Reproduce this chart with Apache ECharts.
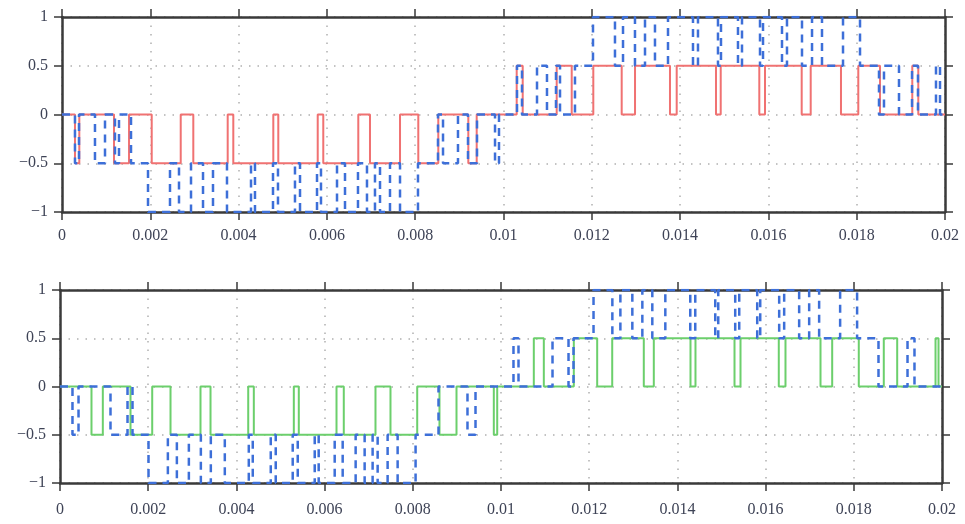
<!DOCTYPE html>
<html><head><meta charset="utf-8">
<script src="https://cdn.jsdelivr.net/npm/echarts@6/dist/echarts.min.js"></script>
<style>html,body{margin:0;padding:0;background:#fff}#c{width:965px;height:524px}</style>
</head><body><div id="c"></div>
<script>
// Axis ticks
const xTicks = [0, 0.002, 0.004, 0.006, 0.008, 0.01, 0.012, 0.014, 0.016, 0.018, 0.02];
const yTicks = [-1, -0.5, 0, 0.5, 1];

// Red 3-level waveform (top panel): switching instants in ms, level after each instant
const redT = [0, 0.294, 0.392, 1.178, 1.518, 2.032, 2.689, 2.974, 3.753, 3.880, 4.786, 4.899, 5.792, 5.918, 6.711, 6.976, 7.656, 8.070, 8.523, 9.203, 9.393,
  10.299, 10.435, 11.205, 11.545, 12.034, 12.677, 12.979, 13.771, 13.923, 14.813, 14.920, 15.794, 15.923, 16.754, 16.958, 17.644, 18.036, 18.528, 19.259, 19.395, 20];
const redV = [0, -0.5, 0, -0.5, 0, -0.5, 0, -0.5, 0, -0.5, 0, -0.5, 0, -0.5, 0, -0.5, 0, -0.5, 0, -0.5, 0,
  0.5, 0, 0.5, 0, 0.5, 0, 0.5, 0, 0.5, 0, 0.5, 0, 0.5, 0, 0.5, 0, 0.5, 0, 0.5, 0, 0];

// Green 3-level waveform (bottom panel)
const greenT = [0, 0.714, 0.971, 1.599, 2.091, 2.506, 3.186, 3.413, 4.268, 4.395, 5.302, 5.415, 6.270, 6.435, 7.154, 7.494, 8.100, 8.605, 8.991, 9.837, 9.914,
  10.744, 10.971, 11.651, 12.181, 12.522, 13.238, 13.465, 14.297, 14.410, 15.295, 15.431, 16.299, 16.451, 17.245, 17.510, 18.113, 18.680, 18.984, 19.853, 19.921, 20];
const greenV = [0, -0.5, 0, -0.5, 0, -0.5, 0, -0.5, 0, -0.5, 0, -0.5, 0, -0.5, 0, -0.5, 0, -0.5, 0, -0.5, 0,
  0.5, 0, 0.5, 0, 0.5, 0, 0.5, 0, 0.5, 0, 0.5, 0, 0.5, 0, 0.5, 0, 0.5, 0, 0.5, 0, 0];

// Blue 5-level waveform pieces
const blueTopStartT = [0, 0.294, 0.385, 0.747, 0.974, 1.200, 1.291, 1.563, 1.948];
const blueTopStartV = [0, -0.5, 0, -0.5, 0, -0.5, 0, -0.5, -1];
const blueBotStartT = [0, 0.283, 0.420, 1.145, 1.531, 1.644, 2.007];
const blueBotStartV = [0, -0.5, 0, -0.5, 0, -0.5, -1];
const blueNegT = [2.446, 2.650, 2.922, 3.194, 3.420, 3.737, 4.281, 4.371, 4.779, 4.892, 5.277, 5.391, 5.776, 5.866, 6.229, 6.410, 6.704, 6.908, 7.089, 7.203, 7.429, 7.656, 8.063];
const blueNegV = [-0.5, -1, -0.5, -1, -0.5, -1, -0.5, -1, -0.5, -1, -0.5, -1, -0.5, -1, -0.5, -1, -0.5, -1, -0.5, -1, -0.5, -1, -0.5];
const blueTopMidT = [8.516, 8.630, 8.969, 9.196, 9.400, 9.808, 9.898, 10.306, 10.419, 10.759, 10.985, 11.189, 11.280, 11.619, 12.027];
const blueTopMidV = [0, -0.5, 0, -0.5, 0, -0.5, 0, 0.5, 0, 0.5, 0, 0.5, 0, 0.5, 1];
const blueBotMidT = [8.583, 9.240, 9.422, 10.283, 10.397, 11.168, 11.531, 11.644, 12.098];
const blueBotMidV = [0, -0.5, 0, 0.5, 0, 0.5, 0, 0.5, 1];
const bluePosT = [12.525, 12.707, 12.978, 13.205, 13.431, 13.726, 14.292, 14.405, 14.858, 14.926, 15.311, 15.402, 15.810, 15.878, 16.308, 16.421, 16.761, 16.988, 17.214, 17.690, 18.075];
const bluePosV = [0.5, 1, 0.5, 1, 0.5, 1, 0.5, 1, 0.5, 1, 0.5, 1, 0.5, 1, 0.5, 1, 0.5, 1, 0.5, 1, 0.5];
const blueTopEndT = [18.505, 18.618, 18.958, 19.253, 19.388, 19.796, 19.887, 20];
const blueTopEndV = [0, 0.5, 0, 0.5, 0, 0.5, 0, 0];
const blueBotEndT = [18.560, 19.218, 19.376, 20];
const blueBotEndV = [0, 0.5, 0, 0];

function pts(t, v) { return t.map((ms, i) => [ms / 1000, v[i]]); }
const blueTop = pts([...blueTopStartT, ...blueNegT, ...blueTopMidT, ...bluePosT, ...blueTopEndT],
                    [...blueTopStartV, ...blueNegV, ...blueTopMidV, ...bluePosV, ...blueTopEndV]);
const blueBot = pts([...blueBotStartT, ...blueNegT, ...blueBotMidT, ...bluePosT, ...blueBotEndT],
                    [...blueBotStartV, ...blueNegV, ...blueBotMidV, ...bluePosV, ...blueBotEndV]);

const AX = '#3a3a3a';
const LABEL = { fontFamily: 'Liberation Serif', fontSize: 16, color: '#3e4356' };
const grid = { color: '#b0b0b0', type: [1.5, 7], width: 1.5 };
const xStep = xTicks[1] - xTicks[0];
const yStep = yTicks[1] - yTicks[0];

function xAxes(gi, margin) {
  const base = { gridIndex: gi, type: 'value', min: xTicks[0], max: xTicks[xTicks.length - 1], interval: xStep,
    axisLine: { show: true, onZero: false, lineStyle: { color: AX, width: 2.5 } },
    axisTick: { show: true, length: 8, lineStyle: { color: AX, width: 1.5 } } };
  return [
    Object.assign({}, base, { position: 'bottom',
      axisLabel: Object.assign({ margin: margin, showMinLabel: true, showMaxLabel: true,
        formatter: v => String(+v.toFixed(4)) }, LABEL),
      splitLine: { show: true, lineStyle: grid } }),
    Object.assign({}, base, { position: 'top', axisLabel: { show: false }, splitLine: { show: false } })
  ];
}
function yAxes(gi) {
  const base = { gridIndex: gi, type: 'value', min: yTicks[0], max: yTicks[yTicks.length - 1], interval: yStep,
    axisLine: { show: true, onZero: false, lineStyle: { color: AX, width: 2.5 } },
    axisTick: { show: true, length: 8, lineStyle: { color: AX, width: 1.5 } } };
  return [
    Object.assign({}, base, { position: 'left',
      axisLabel: Object.assign({ margin: 14, showMinLabel: true, showMaxLabel: true,
        formatter: v => (v < 0 ? '\u2212' + Math.abs(v) : String(v)) }, LABEL),
      splitLine: { show: true, lineStyle: grid } }),
    Object.assign({}, base, { position: 'right', axisLabel: { show: false }, splitLine: { show: false } })
  ];
}

function line(name, data, xi, yi, color, width, type, z) {
  return { name: name, type: 'line', step: 'end', data: data, xAxisIndex: xi, yAxisIndex: yi,
    showSymbol: false, symbol: 'none', z: z, animation: false,
    lineStyle: { color: color, width: width, type: type } };
}

const chart = echarts.init(document.getElementById('c'), null, { renderer: 'canvas' });
chart.setOption({
  backgroundColor: '#ffffff',
  animation: false,
  grid: [
    { left: 62, right: 20, top: 17, height: 195 },
    { left: 60, right: 23, top: 290, height: 193 }
  ],
  xAxis: [...xAxes(0, 16), ...xAxes(1, 19)],
  yAxis: [...yAxes(0), ...yAxes(1)],
  series: [
    line('Phase voltage (3-level)', pts(redT, redV), 0, 0, '#f07272', 2, 'solid', 2),
    line('Output voltage (5-level)', blueTop, 0, 0, '#3d6fd8', 2.5, [8, 6], 3),
    line('Phase voltage (3-level)', pts(greenT, greenV), 2, 2, '#6ccf6c', 2, 'solid', 2),
    line('Output voltage (5-level)', blueBot, 2, 2, '#3d6fd8', 2.5, [8, 6], 3)
  ]
});
</script>
</body></html>
